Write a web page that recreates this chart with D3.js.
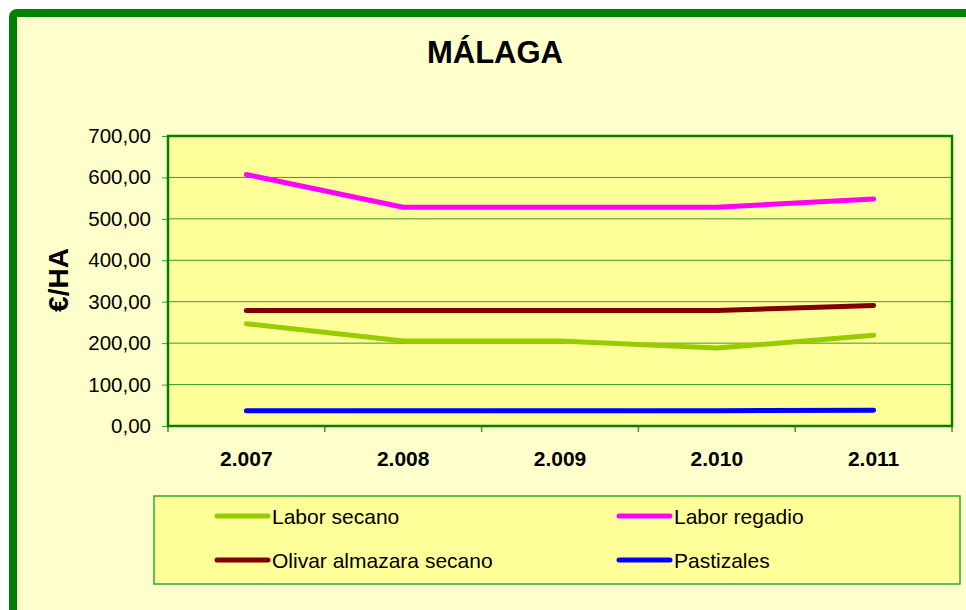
<!DOCTYPE html>
<html>
<head>
<meta charset="utf-8">
<script src="https://cdn.jsdelivr.net/npm/d3@7"></script>
<style>
  body { margin: 0; background: #ffffff; }
  svg text { font-family: "Liberation Sans", Arial, sans-serif; }
</style>
</head>
<body>
<div id="chart"></div>
<script>
// Datos (€/HA)
const years = ["2.007", "2.008", "2.009", "2.010", "2.011"];
const laborSecano = [247, 205, 205, 188, 219];
const laborRegadio = [607, 528, 528, 528, 548];
const olivarSecano = [279, 279, 279, 279, 291];
const pastizales = [37, 37, 37, 37, 38];
const yTicks = [0, 100, 200, 300, 400, 500, 600, 700];

const series = [
  { name: "Labor secano", values: laborSecano, color: "#99cc00" },
  { name: "Labor regadio", values: laborRegadio, color: "#ff00ff" },
  { name: "Olivar almazara secano", values: olivarSecano, color: "#800000" },
  { name: "Pastizales", values: pastizales, color: "#0000ff" }
];

const width = 966, height = 610;
const plot = { left: 168, top: 136, right: 952, bottom: 426 };

const svg = d3.select("#chart").append("svg")
  .attr("width", width)
  .attr("height", height);

// marco exterior
svg.append("rect")
  .attr("x", 13).attr("y", 13)
  .attr("width", 1000).attr("height", 700)
  .attr("rx", 4)
  .attr("fill", "#ffffcc")
  .attr("stroke", "#008000")
  .attr("stroke-width", 8);

// titulo
svg.append("text")
  .attr("x", 495).attr("y", 63)
  .attr("text-anchor", "middle")
  .attr("font-size", 31).attr("font-weight", "bold")
  .text("MÁLAGA");

const x = d3.scaleBand().domain(years).range([plot.left, plot.right]);
const y = d3.scaleLinear().domain([0, 700]).range([plot.bottom, plot.top]);

// area de trazado
svg.append("rect")
  .attr("x", plot.left).attr("y", plot.top)
  .attr("width", plot.right - plot.left).attr("height", plot.bottom - plot.top)
  .attr("fill", "#ffff99");

// lineas de rejilla
svg.append("g")
  .selectAll("line")
  .data(yTicks.filter(d => d > 0 && d < 700))
  .join("line")
  .attr("x1", plot.left).attr("x2", plot.right)
  .attr("y1", d => y(d)).attr("y2", d => y(d))
  .attr("stroke", "#3a9a2a").attr("stroke-width", 1);

// eje Y
const yAxis = svg.append("g")
  .attr("transform", `translate(${plot.left},0)`)
  .call(d3.axisLeft(y).tickValues(yTicks).tickSize(6).tickPadding(11)
    .tickFormat(d => d3.format(".2f")(d).replace(".", ",")));
yAxis.select(".domain").remove();
yAxis.selectAll(".tick line").attr("stroke", "#3a9a2a");
yAxis.selectAll("text").attr("font-size", 20.5).attr("fill", "#000")
  .attr("font-family", "'Liberation Sans', Arial, sans-serif");

// eje X: marcas en los limites de categoria
svg.append("g")
  .selectAll("line")
  .data(years.map(d => x(d)).concat([plot.right]))
  .join("line")
  .attr("x1", d => d).attr("x2", d => d)
  .attr("y1", plot.bottom).attr("y2", plot.bottom + 6)
  .attr("stroke", "#3a9a2a").attr("stroke-width", 1.5);

svg.append("g")
  .selectAll("text")
  .data(years)
  .join("text")
  .attr("x", d => x(d) + x.bandwidth() / 2)
  .attr("y", 466)
  .attr("text-anchor", "middle")
  .attr("font-size", 21).attr("font-weight", "bold")
  .text(d => d);

// borde del area de trazado
svg.append("rect")
  .attr("x", plot.left).attr("y", plot.top)
  .attr("width", plot.right - plot.left).attr("height", plot.bottom - plot.top)
  .attr("fill", "none")
  .attr("stroke", "#008000").attr("stroke-width", 2.5);

// titulo eje Y
svg.append("text")
  .attr("transform", "translate(68,280) rotate(-90)")
  .attr("text-anchor", "middle")
  .attr("font-size", 28).attr("font-weight", "bold")
  .text("€/HA");

// series
const line = d3.line()
  .x((d, i) => x(years[i]) + x.bandwidth() / 2)
  .y(d => y(d));

svg.append("g")
  .selectAll("path")
  .data(series)
  .join("path")
  .attr("d", d => line(d.values))
  .attr("fill", "none")
  .attr("stroke", d => d.color)
  .attr("stroke-width", 5)
  .attr("stroke-linecap", "round")
  .attr("stroke-linejoin", "round");

// leyenda
svg.append("rect")
  .attr("x", 154).attr("y", 496)
  .attr("width", 806).attr("height", 88)
  .attr("fill", "#ffff99")
  .attr("stroke", "#33a633").attr("stroke-width", 1.5);

const legendPos = [[217, 516], [619, 516], [217, 560], [619, 560]];
const legend = svg.append("g")
  .selectAll("g")
  .data(series)
  .join("g")
  .attr("transform", (d, i) => `translate(${legendPos[i][0]},${legendPos[i][1]})`);

legend.append("line")
  .attr("x1", 0).attr("x2", 51)
  .attr("stroke", d => d.color)
  .attr("stroke-width", 5)
  .attr("stroke-linecap", "round");

legend.append("text")
  .attr("x", 55).attr("y", 8)
  .attr("font-size", 21)
  .text(d => d.name);
</script>
</body>
</html>
